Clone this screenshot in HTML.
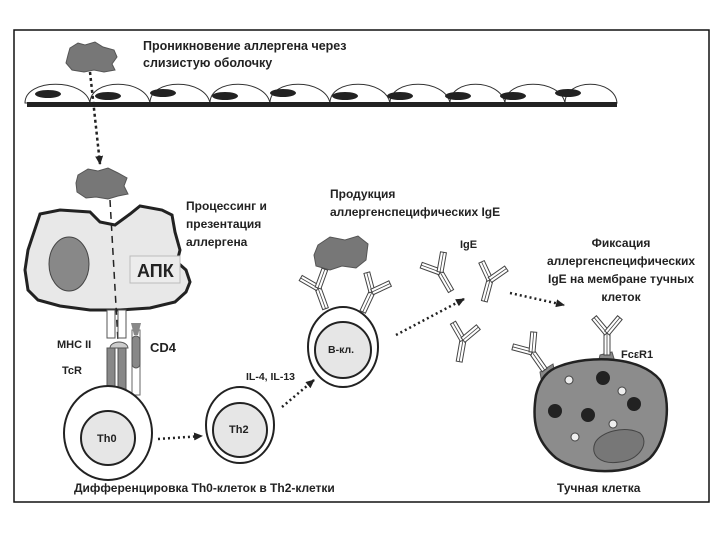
<!DOCTYPE html>
<html><head><meta charset="utf-8"><style>
body{margin:0;background:#fff}
svg{display:block}
text{font-family:"Liberation Sans",sans-serif;font-weight:bold;fill:#222}
</style></head><body>
<svg width="720" height="540" viewBox="0 0 720 540" xmlns="http://www.w3.org/2000/svg">
<defs>
<g id="ab">
<rect x="-3" y="0" width="6" height="22" fill="#fff" stroke="#444" stroke-width="1"/>
<line x1="0" y1="0" x2="0" y2="22" stroke="#444" stroke-width="0.8"/>
<g transform="rotate(-40)"><rect x="-3" y="-20" width="6" height="20" fill="#fff" stroke="#444"/><line x1="0" y1="-20" x2="0" y2="0" stroke="#444" stroke-width="0.8"/></g>
<g transform="rotate(40)"><rect x="-3" y="-20" width="6" height="20" fill="#fff" stroke="#444"/><line x1="0" y1="-20" x2="0" y2="0" stroke="#444" stroke-width="0.8"/></g>
</g>
<marker id="ar" markerUnits="userSpaceOnUse" markerWidth="10" markerHeight="10" refX="8" refY="5" orient="auto"><path d="M0,1 L9,5 L0,9z" fill="#222"/></marker>
</defs>
<rect x="14" y="30" width="695" height="472" fill="#fff" stroke="#111" stroke-width="1.5"/>
<!-- epithelium -->
<g stroke="#333" stroke-width="1" fill="#fff">
<path d="M25,103 C25,78 85,78 90,103 C90,78 145,78 150,103 C150,78 205,78 210,103 C210,78 265,78 270,103 C270,78 325,78 330,103 C330,78 385,78 390,103 C390,78 445,78 450,103 C450,78 500,78 505,103 C505,78 560,78 565,103 C565,78 615,78 617,103 Z"/>
</g>
<rect x="27" y="102" width="590" height="5" fill="#222"/>
<g fill="#222">
<ellipse cx="48" cy="94" rx="13" ry="4"/><ellipse cx="108" cy="96" rx="13" ry="4"/><ellipse cx="163" cy="93" rx="13" ry="4"/><ellipse cx="225" cy="96" rx="13" ry="4"/><ellipse cx="283" cy="93" rx="13" ry="4"/><ellipse cx="345" cy="96" rx="13" ry="4"/><ellipse cx="400" cy="96" rx="13" ry="4"/><ellipse cx="458" cy="96" rx="13" ry="4"/><ellipse cx="513" cy="96" rx="13" ry="4"/><ellipse cx="568" cy="93" rx="13" ry="4"/>
</g>
<!-- allergens -->
<path d="M70,48 L78,43 L85,45 L95,42 L103,47 L114,50 L117,57 L112,64 L115,70 L104,72 L94,70 L84,72 L72,70 L66,63 L68,55 Z" fill="#777" stroke="#555"/>
<path d="M78,175 L88,169 L98,171 L108,168 L118,173 L127,178 L124,186 L128,194 L118,196 L108,199 L96,197 L86,198 L77,192 L76,183 Z" fill="#777" stroke="#555"/>
<line x1="90" y1="72" x2="100" y2="164" stroke="#222" stroke-width="2.5" stroke-dasharray="3,3" marker-end="url(#ar)"/>
<text x="143" y="50" font-size="12.5">Проникновение аллергена через</text>
<text x="143" y="67" font-size="12.5">слизистую оболочку</text>
<!-- APC -->
<path d="M40,214 L60,210 L90,212 L100,222 L115,225 L130,214 L140,206 L162,210 L172,215 L175,232 L180,250 L177,262 L186,270 L190,282 L186,292 L175,302 L150,308 L120,310 L90,310 L60,306 L38,300 L28,290 L25,270 L28,250 L32,238 Z" fill="#e8e8e8" stroke="#222" stroke-width="3"/>
<ellipse cx="69" cy="264" rx="20" ry="27" fill="#888" stroke="#444"/>
<rect x="130" y="256" width="50" height="27" fill="#ececec" stroke="#bbb"/>
<text x="137" y="277" font-size="18">АПК</text>
<line x1="110" y1="200" x2="122" y2="412" stroke="#222" stroke-width="1.5" stroke-dasharray="7,5"/>
<text x="186" y="210" font-size="12">Процессинг и</text>
<text x="186" y="228" font-size="12">презентация</text>
<text x="186" y="246" font-size="12">аллергена</text>
<!-- receptors -->
<rect x="107" y="310" width="8" height="28" fill="#fff" stroke="#555"/>
<rect x="118" y="310" width="8" height="28" fill="#fff" stroke="#555"/>
<path d="M110,348 a9,6 0 0 1 18,0 z" fill="#ccc" stroke="#555"/>
<rect x="107" y="348" width="8" height="45" fill="#888" stroke="#555"/>
<rect x="118" y="348" width="8" height="45" fill="#888" stroke="#555"/>
<rect x="132" y="330" width="8" height="65" fill="#fff" stroke="#666"/>
<path d="M131,323 L141,323 L138,335 L134,335 Z" fill="#888"/>
<rect x="132" y="336" width="8" height="32" rx="4" fill="#888" stroke="#555"/>
<text x="57" y="348" font-size="11">МНС II</text>
<text x="62" y="374" font-size="11">TcR</text>
<text x="150" y="352" font-size="13">CD4</text>
<!-- Th0 -->
<ellipse cx="108" cy="433" rx="44" ry="47" fill="#fff" stroke="#222" stroke-width="2"/>
<circle cx="108" cy="438" r="27" fill="#e6e6e6" stroke="#222" stroke-width="2"/>
<text x="97" y="442" font-size="11">Th0</text>
<line x1="158" y1="439" x2="202" y2="436" stroke="#222" stroke-width="2.5" stroke-dasharray="2,3" marker-end="url(#ar)"/>
<!-- Th2 -->
<ellipse cx="240" cy="425" rx="34" ry="38" fill="#fff" stroke="#222" stroke-width="2"/>
<circle cx="240" cy="430" r="27" fill="#e6e6e6" stroke="#222" stroke-width="2"/>
<text x="229" y="433" font-size="11">Th2</text>
<text x="246" y="380" font-size="10.5" font-weight="normal">IL-4, IL-13</text>
<line x1="282" y1="407" x2="314" y2="380" stroke="#222" stroke-width="2.5" stroke-dasharray="2,3" marker-end="url(#ar)"/>
<!-- B cell -->
<ellipse cx="343" cy="347" rx="35" ry="40" fill="#fff" stroke="#222" stroke-width="2"/>
<circle cx="343" cy="350" r="28" fill="#e6e6e6" stroke="#222" stroke-width="2"/>
<text x="328" y="353" font-size="10.5">В-кл.</text>
<path d="M318,245 L330,237 L345,240 L358,236 L368,244 L366,260 L356,268 L342,266 L330,270 L316,266 L314,255 Z" fill="#777" stroke="#555"/>
<use href="#ab" transform="translate(318,288) rotate(-20)"/>
<use href="#ab" transform="translate(372,292) rotate(25)"/>
<line x1="396" y1="335" x2="464" y2="299" stroke="#222" stroke-width="2.5" stroke-dasharray="2,3" marker-end="url(#ar)"/>
<text x="330" y="198" font-size="12">Продукция</text>
<text x="330" y="216" font-size="12">аллергенспецифических IgE</text>
<text x="460" y="248" font-size="11" font-weight="normal">IgE</text>
<use href="#ab" transform="translate(440,272) rotate(-30)"/>
<use href="#ab" transform="translate(490,280) rotate(15)"/>
<use href="#ab" transform="translate(463,340) rotate(10)"/>
<line x1="510" y1="293" x2="564" y2="305" stroke="#222" stroke-width="2.5" stroke-dasharray="2,3" marker-end="url(#ar)"/>
<g font-size="12" text-anchor="middle">
<text x="621" y="247">Фиксация</text>
<text x="621" y="265">аллергенспецифических</text>
<text x="621" y="283">IgE на мембране тучных</text>
<text x="621" y="301">клеток</text>
</g>
<!-- mast cell -->
<path d="M600,355 L612,352 L615,362 L598,364 Z" fill="#888" stroke="#555"/>
<path d="M540,372 L553,364 L556,378 L542,384 Z" fill="#888" stroke="#555"/>
<path d="M560,366 C590,355 640,356 660,380 C672,400 668,440 650,458 C630,476 580,475 556,458 C535,440 532,420 536,395 C540,378 548,370 560,366 Z" fill="#8c8c8c" stroke="#222" stroke-width="2.5"/>
<path d="M595,443 C600,432 625,425 640,433 C650,442 640,460 620,462 C600,465 590,455 595,443 Z" fill="#777" stroke="#444"/>
<g fill="#222"><circle cx="603" cy="378" r="7"/><circle cx="555" cy="411" r="7"/><circle cx="588" cy="415" r="7"/><circle cx="634" cy="404" r="7"/></g>
<g fill="#eee" stroke="#444"><circle cx="569" cy="380" r="4"/><circle cx="622" cy="391" r="4"/><circle cx="613" cy="424" r="4"/><circle cx="575" cy="437" r="4"/></g>
<use href="#ab" transform="translate(607,333)"/>
<use href="#ab" transform="translate(532,352) rotate(-35)"/>
<text x="621" y="358" font-size="11">FcεR1</text>
<text x="74" y="492" font-size="12">Дифференцировка Th0-клеток в Th2-клетки</text>
<text x="557" y="492" font-size="12">Тучная клетка</text>
</svg>
</body></html>
